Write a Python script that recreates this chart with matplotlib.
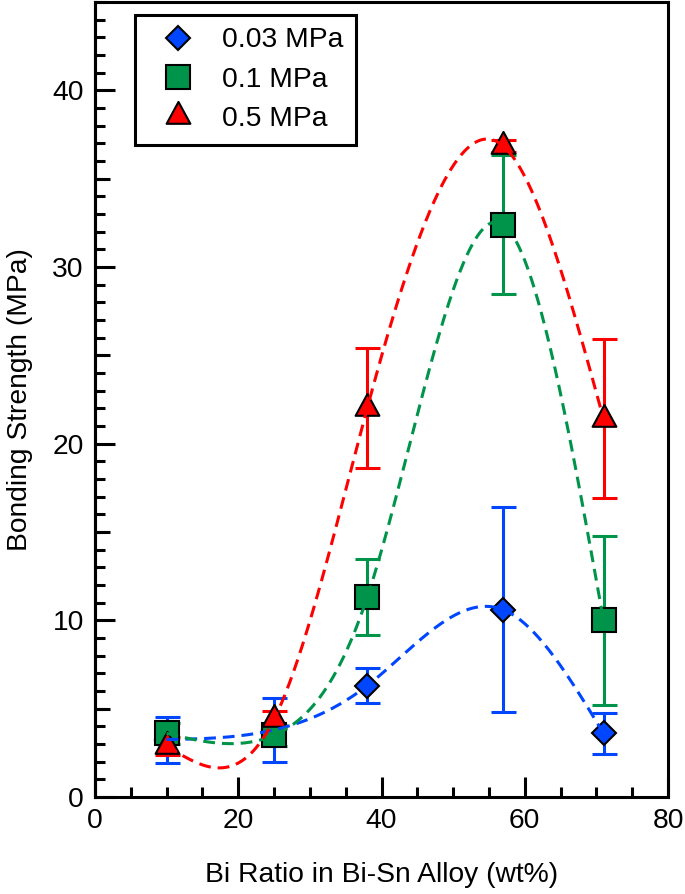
import matplotlib
matplotlib.use('Agg')
import matplotlib.pyplot as plt
from matplotlib.lines import Line2D
from matplotlib.path import Path
from matplotlib.ticker import MultipleLocator, NullLocator
import numpy as np

plt.rcParams['font.family'] = ['Liberation Sans', 'DejaVu Sans']
plt.rcParams['lines.scale_dashes'] = False

# ── Data ──────────────────────────────────────────────────────────────────────
bi_ratio = [10, 25, 38, 57, 71]

p003 = [3.25, 3.8, 6.3, 10.6, 3.6]
p003_err = [1.3, 1.8, 1.0, 5.8, 1.15]

p01 = [3.6, 3.5, 11.3, 32.4, 10.0]
p01_err = [0.6, 0.6, 2.15, 3.95, 4.8]

p05 = [2.9, 4.4, 22.0, 36.85, 21.4]
p05_err = [0.5, 0.45, 3.4, 0.35, 4.5]

labels = ['0.03 MPa', '0.1 MPa', '0.5 MPa']

# ── Style ─────────────────────────────────────────────────────────────────────
C_BLUE = '#0046ff'
C_GREEN = '#00944a'
C_RED = '#ff0000'
LW = 2.2
FS = 20.3

# triangle centred on its centroid
TRI = Path([(0, 15.33), (-12.5, -7.67), (12.5, -7.67), (0, 15.33)], closed=True)

series = [
    (p003, p003_err, C_BLUE, 'D', 12),
    (p01, p01_err, C_GREEN, 's', 17),
    (p05, p05_err, C_RED, TRI, 21),
]


def natural_spline(x, y, n=400):
    # natural cubic spline through the points (dashed guide curves)
    x = np.asarray(x, float); y = np.asarray(y, float)
    k = len(x); h = np.diff(x)
    A = np.zeros((k, k)); r = np.zeros(k)
    A[0, 0] = A[-1, -1] = 1
    for i in range(1, k - 1):
        A[i, i-1] = h[i-1]; A[i, i] = 2 * (h[i-1] + h[i]); A[i, i+1] = h[i]
        r[i] = 3 * ((y[i+1] - y[i]) / h[i] - (y[i] - y[i-1]) / h[i-1])
    c = np.linalg.solve(A, r)
    b = (y[1:] - y[:-1]) / h - h * (2 * c[:-1] + c[1:]) / 3
    d = (c[1:] - c[:-1]) / (3 * h)
    xs = np.linspace(x[0], x[-1], n)
    idx = np.clip(np.searchsorted(x, xs, side='right') - 1, 0, k - 2)
    t = xs - x[idx]
    return xs, y[idx] + b[idx] * t + c[idx] * t**2 + d[idx] * t**3


# ── Figure ────────────────────────────────────────────────────────────────────
fig = plt.figure(figsize=(6.85, 8.94), dpi=100)
ax = fig.add_axes([95/685, 97/894, 573/685, 795/894])

for ys, err, col, mk, ms in series:
    ax.errorbar(bi_ratio, ys, yerr=err, fmt='none', ecolor=col, elinewidth=LW,
                capsize=9, capthick=LW, zorder=3)
    ax.plot(bi_ratio, ys, ls='none', marker=mk, ms=ms, mfc=col, mec='black',
            mew=1.5, zorder=4)

for ys, err, col, mk, ms in series:
    xs, fit = natural_spline(bi_ratio, ys)
    ax.plot(xs, fit, color=col, lw=LW, dashes=(8.5, 5), zorder=5)

ax.set_xlim(0, 80)
ax.set_ylim(0, 45)
ax.xaxis.set_major_locator(MultipleLocator(20))
ax.xaxis.set_minor_locator(MultipleLocator(5))
ax.yaxis.set_major_locator(MultipleLocator(10))
ax.yaxis.set_minor_locator(MultipleLocator(1))
ax.tick_params(which='both', direction='in', width=LW, top=False, right=False,
               labelsize=FS, pad=8)
ax.tick_params(which='major', length=14.4)
ax.tick_params(which='minor', length=7.2)
for sp in ax.spines.values():
    sp.set_linewidth(LW)

# medium ticks at the 5s on the y axis
sec = ax.secondary_yaxis('left')
sec.set_yticks([5, 15, 25, 35], labels=['', '', '', ''])
sec.yaxis.set_minor_locator(NullLocator())
sec.tick_params(direction='in', length=10.8, width=LW)
sec.spines['left'].set_linewidth(LW)

ax.set_xlabel('Bi Ratio in Bi-Sn Alloy (wt%)', fontsize=FS, labelpad=20)
ax.set_ylabel('Bonding Strength (MPa)', fontsize=FS, labelpad=14)

handles = [Line2D([], [], ls='none', marker=mk, ms=ms, mfc=col, mec='black', mew=1.5)
           for ys, err, col, mk, ms in series]
leg = ax.legend(handles, labels, loc='upper left', bbox_to_anchor=(0.07, 0.984),
                borderaxespad=0, fontsize=FS, frameon=True, fancybox=False,
                framealpha=1, edgecolor='black', borderpad=0.45, labelspacing=0.475,
                handlelength=2.13, handletextpad=0.49)
leg.get_frame().set_linewidth(LW)

fig.savefig('out.png', dpi=100)
